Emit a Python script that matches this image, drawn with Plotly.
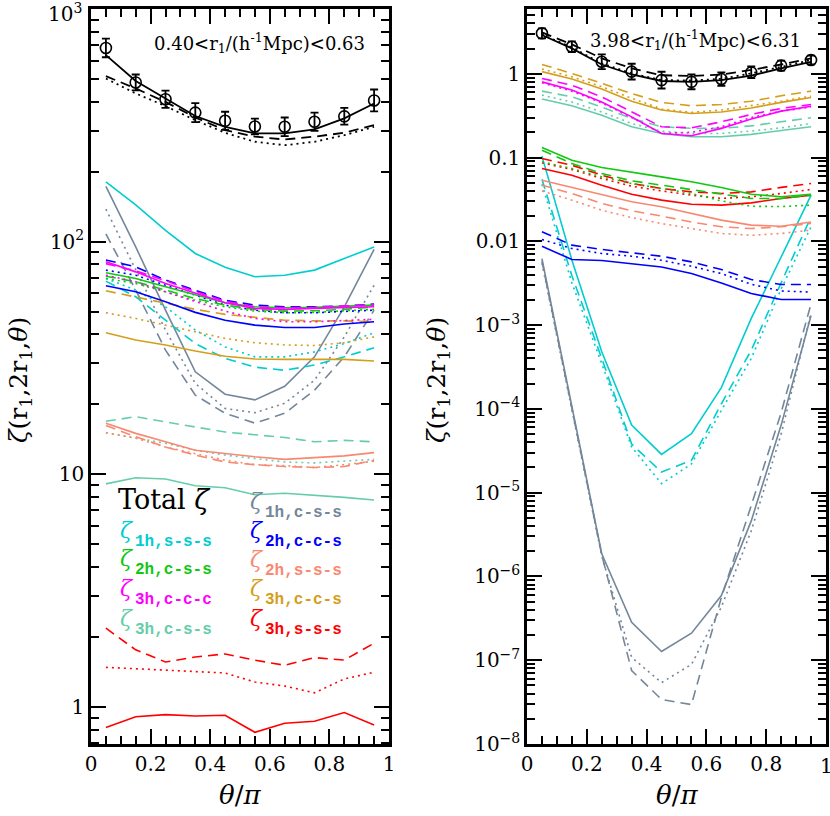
import numpy as np
import plotly.graph_objects as go

W, H = 830, 816
theta = [0.05, 0.15, 0.25, 0.35, 0.45, 0.55, 0.65, 0.75, 0.85, 0.95]

# ---------- Left panel: 0.40 < r1 < 0.63 ----------
L_total_data = [681, 484, 410, 359, 331, 313, 312, 328, 346, 405]
L_total_err_dex = [0.040, 0.034, 0.037, 0.041, 0.039, 0.034, 0.040, 0.039, 0.036, 0.047]
L_total_solid = [634, 491, 413, 347, 312, 292, 292, 304, 339, 393]
L_total_dashed = [515, 456, 399, 342, 302, 283, 275, 283, 294, 317]
L_total_dotted = [503, 434, 383, 333, 294, 269, 260, 269, 287, 312]

L_1h_sss_solid = [181, 144, 112, 89, 77.6, 70.7, 71.8, 75.5, 84.7, 95]
L_1h_sss_dashed = [67.7, 58, 46, 36.5, 31.5, 28.9, 28, 29.5, 32, 35]
L_1h_sss_dotted = [69.5, 62, 52.5, 41.7, 35.3, 32, 32, 33.6, 36.5, 40.6]

L_1h_css_solid = [173, 95, 50.8, 27.6, 22.1, 20.9, 23.9, 32, 52.5, 92.7]
L_1h_css_dashed = [108, 62, 34.2, 21.9, 18.3, 16.6, 18.3, 23, 32, 50.8]
L_1h_css_dotted = [138, 75.5, 41.7, 24.6, 19.2, 18.4, 20.2, 25.4, 39, 65]

L_2h_ccs_solid = [64.7, 60.9, 55.2, 49.7, 46, 43.8, 42.8, 42.8, 44.3, 45.3]
L_2h_ccs_dashed = [83.4, 78, 68.4, 62, 56, 53.4, 52.5, 52.5, 52.9, 53.9]
L_2h_ccs_dotted = [75.5, 71.8, 65, 59, 53.4, 50.8, 49.5, 49.5, 50, 50.8]

L_3h_ccc_solid = [82, 74.2, 66.2, 60, 54.7, 51.7, 51.2, 51.7, 52.2, 52.5]
L_3h_ccc_dashed = [80.5, 75, 68, 61, 55.5, 52.5, 52, 52, 53, 53.5]
L_3h_ccc_dotted = [71.8, 67.3, 60.9, 55.2, 50.3, 46.8, 45.3, 45.3, 45.7, 46.4]

L_2h_css_solid = [73.5, 69.5, 64, 59, 54.7, 52.5, 52, 52.2, 52.9, 53.4]
L_2h_css_dashed = [71.1, 67.3, 62, 57, 53.4, 51.2, 50.3, 50.5, 51.2, 52.5]
L_2h_css_dotted = [69.5, 66.2, 60.9, 56, 52.5, 50.3, 49.5, 49.7, 50.5, 51.2]

L_3h_ccs_solid = [40.6, 37.8, 36, 33.9, 32.2, 31.3, 31.2, 31.3, 31.2, 30.7]
L_3h_ccs_dashed = [61.5, 58, 54.3, 51.2, 48.7, 47.3, 46, 45.7, 45.7, 45.3]
L_3h_ccs_dotted = [49.5, 46.8, 43.8, 41, 38.4, 36.8, 36, 35.8, 36.8, 39]

L_3h_css_solid = [9.1, 9.67, 9.55, 8.93, 8.76, 8.17, 8.29, 8.15, 7.96, 7.76]
L_3h_css_dashed = [16.9, 17.7, 16.8, 16.0, 15.2, 14.8, 14.4, 13.8, 14.0, 13.8]
L_3h_css_dotted = [15.1, 14.3, 13.6, 12.7, 12.1, 11.7, 11.3, 11.2, 11.4, 11.6]

L_2h_sss_solid = [16.6, 15.0, 13.8, 12.7, 12.3, 11.9, 11.6, 11.8, 12.0, 12.4]
L_2h_sss_dashed = [16.2, 14.5, 13.1, 12.1, 11.3, 11.0, 10.8, 10.7, 10.8, 11.5]
L_2h_sss_dotted = [15.1, 14.3, 13.1, 12.3, 11.5, 11.0, 10.9, 10.7, 11.0, 11.4]

L_3h_sss_solid = [0.815, 0.908, 0.927, 0.915, 0.921, 0.778, 0.851, 0.868, 0.946, 0.837]
L_3h_sss_dashed = [2.18, 1.76, 1.56, 1.64, 1.69, 1.59, 1.51, 1.63, 1.59, 1.88]
L_3h_sss_dotted = [1.48, 1.46, 1.43, 1.42, 1.40, 1.28, 1.23, 1.15, 1.32, 1.41]

# ---------- Right panel: 3.98 < r1 < 6.31 ----------
R_total_data = [3.04, 2.10, 1.39, 1.06, 0.84, 0.80, 0.865, 1.04, 1.25, 1.46]
R_total_err_dex = [0.060, 0.064, 0.088, 0.094, 0.100, 0.088, 0.080, 0.070, 0.060, 0.052]
R_total_solid = [2.90, 2.01, 1.29, 0.98, 0.82, 0.80, 0.84, 0.95, 1.16, 1.39]
R_total_dashed = [3.12, 2.24, 1.53, 1.16, 0.96, 0.94, 0.98, 1.11, 1.29, 1.53]
R_total_dotted = [2.95, 2.06, 1.33, 1.01, 0.84, 0.83, 0.87, 1.01, 1.21, 1.46]

R_3h_ccs_solid = [1.06, 0.865, 0.656, 0.47, 0.37, 0.336, 0.35, 0.39, 0.455, 0.52]
R_3h_ccs_dashed = [1.29, 1.01, 0.77, 0.58, 0.455, 0.415, 0.43, 0.47, 0.546, 0.62]
R_3h_ccs_dotted = [1.14, 0.92, 0.70, 0.51, 0.38, 0.346, 0.37, 0.415, 0.47, 0.54]

R_3h_ccc_solid = [0.80, 0.64, 0.46, 0.306, 0.194, 0.182, 0.223, 0.288, 0.358, 0.41]
R_3h_ccc_dashed = [0.88, 0.73, 0.53, 0.35, 0.233, 0.226, 0.267, 0.327, 0.386, 0.43]
R_3h_ccc_dotted = [0.78, 0.62, 0.45, 0.30, 0.194, 0.20, 0.233, 0.30, 0.358, 0.40]

R_3h_css_solid = [0.50, 0.415, 0.32, 0.233, 0.194, 0.177, 0.177, 0.189, 0.21, 0.233]
R_3h_css_dashed = [0.62, 0.53, 0.40, 0.293, 0.233, 0.223, 0.223, 0.239, 0.267, 0.298]
R_3h_css_dotted = [0.556, 0.46, 0.35, 0.255, 0.207, 0.194, 0.194, 0.207, 0.226, 0.255]

R_2h_css_solid = [0.132, 0.093, 0.076, 0.0675, 0.0588, 0.0513, 0.044, 0.0365, 0.034, 0.0365]
R_2h_css_dashed = [0.1225, 0.085, 0.0645, 0.0527, 0.0468, 0.0416, 0.0365, 0.0325, 0.0325, 0.0355]
R_2h_css_dotted = [0.089, 0.074, 0.0588, 0.049, 0.0427, 0.0372, 0.0304, 0.0262, 0.026, 0.027]

R_3h_sss_solid = [0.074, 0.0616, 0.0468, 0.0365, 0.031, 0.0277, 0.027, 0.0288, 0.0325, 0.0355]
R_3h_sss_dashed = [0.0975, 0.081, 0.0616, 0.049, 0.0427, 0.0389, 0.0372, 0.0389, 0.044, 0.049]
R_3h_sss_dotted = [0.0865, 0.072, 0.0563, 0.0455, 0.040, 0.0355, 0.0325, 0.034, 0.0372, 0.0416]

R_2h_sss_solid = [0.0537, 0.044, 0.0355, 0.0296, 0.0258, 0.0215, 0.0179, 0.0156, 0.0151, 0.017]
R_2h_sss_dashed = [0.0468, 0.0372, 0.0283, 0.0231, 0.020, 0.017, 0.0149, 0.0142, 0.0149, 0.0163]
R_2h_sss_dotted = [0.040, 0.031, 0.0235, 0.0192, 0.0163, 0.0142, 0.0124, 0.0118, 0.0124, 0.0136]

R_2h_ccs_solid = [0.00874, 0.00606, 0.0059, 0.00543, 0.00494, 0.00412, 0.00318, 0.00238, 0.00202, 0.00202]
R_2h_ccs_dashed = [0.013, 0.009, 0.008, 0.00727, 0.00664, 0.00568, 0.0046, 0.0035, 0.00305, 0.00305]
R_2h_ccs_dotted = [0.0105, 0.0082, 0.00715, 0.00664, 0.00594, 0.00504, 0.00412, 0.00307, 0.00255, 0.00248]

R_1h_sss_solid = [0.104, 6.0e-3, 4.8e-4, 6.4e-5, 2.86e-5, 5.06e-5, 1.79e-4, 1.2e-3, 6.5e-3, 0.0355]
R_1h_sss_dashed = [0.055, 3.9e-3, 4.0e-4, 3.8e-5, 1.76e-5, 2.43e-5, 1.15e-4, 5.0e-4, 3.2e-3, 0.0196]
R_1h_sss_dotted = [0.048, 3.2e-3, 3.47e-4, 3.5e-5, 1.28e-5, 2.2e-5, 9.6e-5, 4.0e-4, 2.7e-3, 0.0149]

R_1h_css_solid = [6.2e-3, 1.07e-4, 1.86e-6, 2.84e-7, 1.27e-7, 2.1e-7, 5.9e-7, 4.6e-6, 6.4e-5, 1.3e-3]
R_1h_css_dashed = [5.8e-3, 1.0e-4, 1.8e-6, 7.5e-8, 3.4e-8, 2.95e-8, 5.6e-7, 7.0e-6, 9.0e-5, 1.8e-3]
R_1h_css_dotted = [5.5e-3, 0.95e-4, 1.75e-6, 1.08e-7, 5.4e-8, 8.9e-8, 4.3e-7, 3.5e-6, 5.0e-5, 1.4e-3]

# ---------- styling ----------
C_CYAN = "#00CDD0"
C_GRAY = "#74879A"
C_GREEN = "#10C810"
C_BLUE = "#0000FF"
C_MAGENTA = "#FF00FF"
C_SALMON = "#FA8870"
C_AQUA = "#66CDAA"
C_GOLD = "#D59E1A"
C_RED = "#FF0000"

DASH = "10px,6px"
DOT = "2px,4px"
LW = 1.6

left_series = [
    (C_GRAY, L_1h_css_solid, L_1h_css_dashed, L_1h_css_dotted),
    (C_CYAN, L_1h_sss_solid, L_1h_sss_dashed, L_1h_sss_dotted),
    (C_GOLD, L_3h_ccs_solid, L_3h_ccs_dashed, L_3h_ccs_dotted),
    (C_BLUE, L_2h_ccs_solid, L_2h_ccs_dashed, L_2h_ccs_dotted),
    (C_GREEN, L_2h_css_solid, L_2h_css_dashed, L_2h_css_dotted),
    (C_MAGENTA, L_3h_ccc_solid, L_3h_ccc_dashed, L_3h_ccc_dotted),
    (C_AQUA, L_3h_css_solid, L_3h_css_dashed, L_3h_css_dotted),
    (C_SALMON, L_2h_sss_solid, L_2h_sss_dashed, L_2h_sss_dotted),
    (C_RED, L_3h_sss_solid, L_3h_sss_dashed, L_3h_sss_dotted),
]
right_series = [
    (C_GRAY, R_1h_css_solid, R_1h_css_dashed, R_1h_css_dotted),
    (C_CYAN, R_1h_sss_solid, R_1h_sss_dashed, R_1h_sss_dotted),
    (C_BLUE, R_2h_ccs_solid, R_2h_ccs_dashed, R_2h_ccs_dotted),
    (C_SALMON, R_2h_sss_solid, R_2h_sss_dashed, R_2h_sss_dotted),
    (C_RED, R_3h_sss_solid, R_3h_sss_dashed, R_3h_sss_dotted),
    (C_GREEN, R_2h_css_solid, R_2h_css_dashed, R_2h_css_dotted),
    (C_AQUA, R_3h_css_solid, R_3h_css_dashed, R_3h_css_dotted),
    (C_MAGENTA, R_3h_ccc_solid, R_3h_ccc_dashed, R_3h_ccc_dotted),
    (C_GOLD, R_3h_ccs_solid, R_3h_ccs_dashed, R_3h_ccs_dotted),
]

fig = go.Figure()


def add_lines(series, xa, ya):
    for color, s, d, o in series:
        for vals, dash in ((s, "solid"), (d, DASH), (o, DOT)):
            fig.add_trace(go.Scatter(x=theta, y=vals, mode="lines", xaxis=xa, yaxis=ya,
                                     line=dict(color=color, width=LW, dash=dash),
                                     showlegend=False, hoverinfo="skip"))


def add_total(data, err_dex, solid, dashed, dotted, xa, ya):
    for vals, dash in ((solid, "solid"), (dashed, DASH), (dotted, DOT)):
        fig.add_trace(go.Scatter(x=theta, y=vals, mode="lines", xaxis=xa, yaxis=ya,
                                 line=dict(color="black", width=1.8, dash=dash),
                                 showlegend=False, hoverinfo="skip"))
    d = np.array(data, dtype=float)
    e = np.array(err_dex, dtype=float)
    up = d * (10 ** e - 1)
    dn = d * (1 - 10 ** (-e))
    fig.add_trace(go.Scatter(x=theta, y=data, mode="markers", xaxis=xa, yaxis=ya,
                             marker=dict(symbol="circle-open", size=11, color="black",
                                         line=dict(width=1.6, color="black")),
                             error_y=dict(type="data", array=up, arrayminus=dn, symmetric=False,
                                          color="black", thickness=1.8, width=4),
                             showlegend=False, hoverinfo="skip"))


add_lines(left_series, "x", "y")
add_total(L_total_data, L_total_err_dex, L_total_solid, L_total_dashed, L_total_dotted, "x", "y")
add_lines(right_series, "x2", "y2")
add_total(R_total_data, R_total_err_dex, R_total_solid, R_total_dashed, R_total_dotted, "x2", "y2")

# empty traces so the top / right companion axes get their subplots
for xa, ya in (("x3", "y"), ("x", "y3"), ("x4", "y2"), ("x2", "y4")):
    fig.add_trace(go.Scatter(x=[None], y=[None], mode="lines", xaxis=xa, yaxis=ya,
                             showlegend=False, hoverinfo="skip"))

TICKFONT = dict(family="DejaVu Serif", size=20, color="black")
x_ticks = [0, 0.2, 0.4, 0.6, 0.8, 1.0]
x_ticktext_L = ["0", "0.2", "0.4", "0.6", "0.8", "1"]
x_ticktext_R = ["0", "0.2", "0.4", "0.6", "0.8", ""]   # edge label "1" drawn as annotation

L_yticks = [1, 10, 100, 1000]
L_yticktext = ["1", "10", "10<sup>2</sup>", ""]       # edge label "10^3" drawn as annotation
R_yticks = [1e-8, 1e-7, 1e-6, 1e-5, 1e-4, 1e-3, 0.01, 0.1, 1]
R_yticktext = ["10<sup>\u22128</sup>", "10<sup>\u22127</sup>", "10<sup>\u22126</sup>", "10<sup>\u22125</sup>",
               "10<sup>\u22124</sup>", "10<sup>\u22123</sup>", "0.01", "0.1", "1"]

COMMON = dict(ticks="inside", ticklen=15, tickwidth=1.6, tickcolor="black",
              showline=True, linecolor="black", linewidth=2.5, mirror="ticks",
              showgrid=False, zeroline=False, tickfont=TICKFONT)
MINOR = dict(ticks="inside", ticklen=8, tickcolor="black", showgrid=False)


def xaxis_cfg(dom, anchor, tt, side="bottom", overlay=None):
    cfg = dict(domain=dom, range=[0, 1], tickmode="array", tickvals=x_ticks, ticktext=tt,
               anchor=anchor, side=side, minor=dict(dtick=0.05, tick0=0, **MINOR), **COMMON)
    if overlay:
        cfg.update(overlaying=overlay, showticklabels=False)
    return cfg


def yaxis_cfg(dom, rng, tv, tt, anchor, side="left", overlay=None):
    cfg = dict(domain=dom, type="log", range=rng, tickmode="array", tickvals=tv, ticktext=tt,
               anchor=anchor, side=side, minor=dict(dtick="D1", **MINOR), **COMMON)
    if overlay:
        cfg.update(overlaying=overlay, showticklabels=False)
    return cfg


ydom = [(816 - 744) / 816, (816 - 9) / 816]
xdomL = [91 / W, 389 / W]
xdomR = [527 / W, 826 / W]
yrL = [np.log10(0.693), 3.0005]
yrR = [-8.0005, np.log10(5.93)]
fig.update_layout(
    width=W, height=H, margin=dict(l=0, r=0, t=0, b=0, autoexpand=False),
    paper_bgcolor="white", plot_bgcolor="white", showlegend=False,
    xaxis=xaxis_cfg(xdomL, "y", x_ticktext_L),
    xaxis2=xaxis_cfg(xdomR, "y2", x_ticktext_R),
    xaxis3=xaxis_cfg(xdomL, "y", x_ticktext_L, side="top", overlay="x"),
    xaxis4=xaxis_cfg(xdomR, "y2", x_ticktext_R, side="top", overlay="x2"),
    yaxis=yaxis_cfg(ydom, yrL, L_yticks, L_yticktext, "x"),
    yaxis2=yaxis_cfg(ydom, yrR, R_yticks, R_yticktext, "x2"),
    yaxis3=yaxis_cfg(ydom, yrL, L_yticks, L_yticktext, "x", side="right", overlay="y"),
    yaxis4=yaxis_cfg(ydom, yrR, R_yticks, R_yticktext, "x2", side="right", overlay="y2"),
)


def px(x):
    return x / W


def py(y):
    return 1 - y / H


ann = []
SERIF = "DejaVu Serif"
# edge tick labels that Plotly would hide at the page border
ann.append(dict(x=px(84), y=np.log10(L_yticks[-1]), xref="paper", yref="y", yshift=-4,
                text="10<sup>3</sup>", xanchor="right", yanchor="middle",
                font=dict(family=SERIF, size=20, color="black")))
ann.append(dict(x=x_ticks[-1], y=py(766), xref="x2", yref="paper", text="1",
                xanchor="center", yanchor="middle", font=dict(family=SERIF, size=20, color="black")))

ann.append(dict(x=px(152), y=py(43), text="0.40&lt;r<sub>1</sub>/(h<sup>-1</sup>Mpc)&lt;0.63",
                xanchor="left", yanchor="middle", font=dict(family=SERIF, size=18, color="black")))
ann.append(dict(x=px(588), y=py(40), text="3.98&lt;r<sub>1</sub>/(h<sup>-1</sup>Mpc)&lt;6.31",
                xanchor="left", yanchor="middle", font=dict(family=SERIF, size=18, color="black")))
for xc in (240, 677):
    ann.append(dict(x=px(xc), y=py(795), text="<i>\u03b8</i>/<i>\u03c0</i>", xanchor="center", yanchor="middle",
                    font=dict(family=SERIF, size=26, color="black")))
for xc in (20, 438):
    ann.append(dict(x=px(xc), y=py(380), text="<i>\u03b6</i>(r<sub>1</sub>,2r<sub>1</sub>,<i>\u03b8</i>)",
                    textangle=-90, xanchor="center", yanchor="middle",
                    font=dict(family=SERIF, size=25, color="black")))

legend_labels = ["1h,s-s-s", "2h,c-s-s", "3h,c-c-c", "3h,c-s-s",
                 "1h,c-s-s", "2h,c-c-s", "2h,s-s-s", "3h,c-c-s", "3h,s-s-s"]
legend_colors = [C_CYAN, C_GREEN, C_MAGENTA, C_AQUA, C_GRAY, C_BLUE, C_SALMON, C_GOLD, C_RED]
legend_x = [133, 133, 133, 133, 263, 263, 263, 263, 263]
legend_y = [542, 570, 600, 630, 513, 542, 571, 600, 630]

ann.append(dict(x=px(116), y=py(499), text="Total <i>\u03b6</i>", xanchor="left", yanchor="middle",
                font=dict(family=SERIF, size=27, color="black")))
for lab, col, lx, ly in zip(legend_labels, legend_colors, legend_x, legend_y):
    ann.append(dict(x=px(lx - 15), y=py(ly - 12), text="<i>\u03b6</i>", xanchor="left", yanchor="middle",
                    font=dict(family=SERIF, size=22, color=col)))
    ann.append(dict(x=px(lx), y=py(ly), text="<b>" + lab + "</b>", xanchor="left", yanchor="middle",
                    font=dict(family="Liberation Mono", size=16, color=col)))

for a in ann:
    a.setdefault("xref", "paper")
    a.setdefault("yref", "paper")
    a.update(showarrow=False)
fig.update_layout(annotations=ann)

fig.write_html("out.html", config={"displayModeBar": False},
               post_script="document.body.style.margin='0';document.body.style.overflow='hidden';")
